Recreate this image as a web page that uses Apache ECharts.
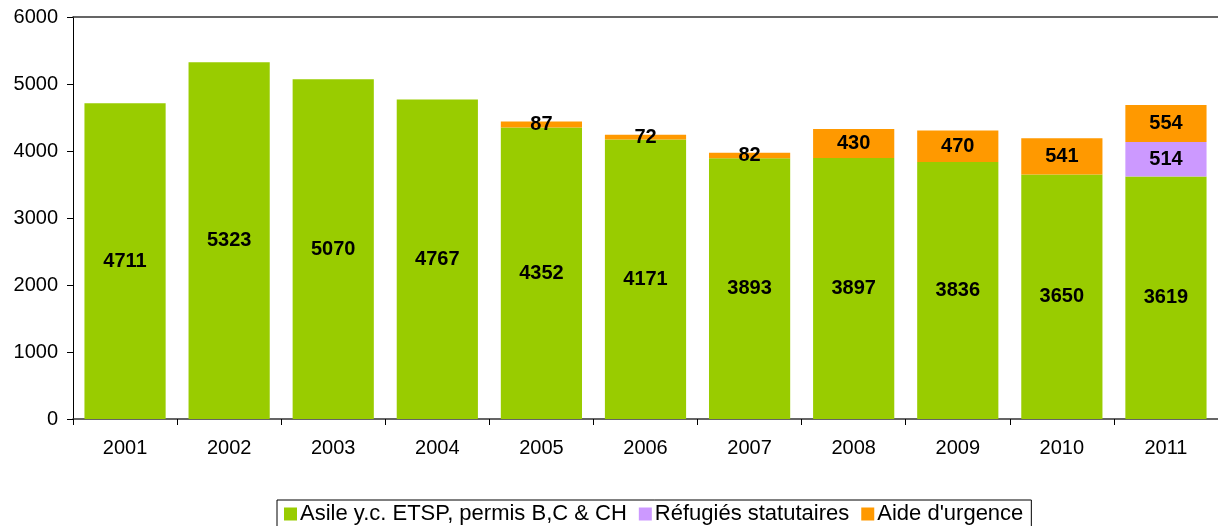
<!DOCTYPE html>
<html>
<head>
<meta charset="utf-8">
<script src="https://cdn.jsdelivr.net/npm/echarts@6/dist/echarts.min.js"></script>
<style>
  html, body { margin: 0; padding: 0; background: #fff; }
  #chart { width: 1218px; height: 526px; }
</style>
</head>
<body>
<div id="chart"></div>
<script>
// data
const years = ['2001', '2002', '2003', '2004', '2005', '2006', '2007', '2008', '2009', '2010', '2011']
const asile = [4711, 5323, 5070, 4767, 4352, 4171, 3893, 3897, 3836, 3650, 3619]
const refugies = [null, null, null, null, null, null, null, null, null, null, 514]
const aide = [null, null, null, null, 87, 72, 82, 430, 470, 541, 554]

const myChart = echarts.init(document.getElementById('chart'))

const labelStyle = {
  show: true,
  position: 'inside',
  color: '#000',
  fontFamily: 'Liberation Sans, Arial',
  fontWeight: 'bold',
  fontSize: 20
}

const option = {
  animation: false,
  textStyle: { fontFamily: 'Liberation Sans, Arial' },
  grid: { left: 73, right: -2, top: 17, bottom: 107, containLabel: false },
  legend: {
    top: 500,
    left: 277,
    itemWidth: 13,
    itemHeight: 13,
    itemGap: 12,
    icon: 'rect',
    borderColor: '#000',
    borderWidth: 1,
    padding: [3, 8, 8, 7],
    textStyle: { fontSize: 22, color: '#000', padding: [0, 0, 0, -2] },
    data: ['Asile y.c. ETSP, permis B,C & CH', 'Réfugiés statutaires', "Aide d'urgence"]
  },
  xAxis: [
    {
      type: 'category',
      data: years,
      axisLine: { lineStyle: { color: '#333', width: 1.5 } },
      axisTick: { show: true, length: 6, inside: false, lineStyle: { color: '#000' } },
      axisLabel: { color: '#000', fontSize: 20, margin: 19 }
    },
    {
      type: 'category',
      position: 'top',
      data: years,
      axisLine: { show: true, lineStyle: { color: '#333', width: 1.5 } },
      axisTick: { show: false },
      axisLabel: { show: false }
    }
  ],
  yAxis: {
    type: 'value',
    min: 0,
    max: 6000,
    interval: 1000,
    axisLine: { show: true, lineStyle: { color: '#000' } },
    axisTick: { show: true, length: 6, lineStyle: { color: '#000' } },
    axisLabel: { color: '#000', fontSize: 20, margin: 15, formatter: v => String(v) },
    splitLine: { show: false }
  },
  series: [
    {
      name: 'Asile y.c. ETSP, permis B,C & CH',
      type: 'bar',
      stack: 'total',
      data: asile,
      barCategoryGap: '22%',
      itemStyle: { color: '#99CC00' },
      label: labelStyle
    },
    {
      name: 'Réfugiés statutaires',
      type: 'bar',
      stack: 'total',
      data: refugies,
      itemStyle: { color: '#CC99FF' },
      label: labelStyle
    },
    {
      name: "Aide d'urgence",
      type: 'bar',
      stack: 'total',
      data: aide,
      itemStyle: { color: '#FF9900' },
      label: labelStyle
    }
  ]
}

myChart.setOption(option)
</script>
</body>
</html>
